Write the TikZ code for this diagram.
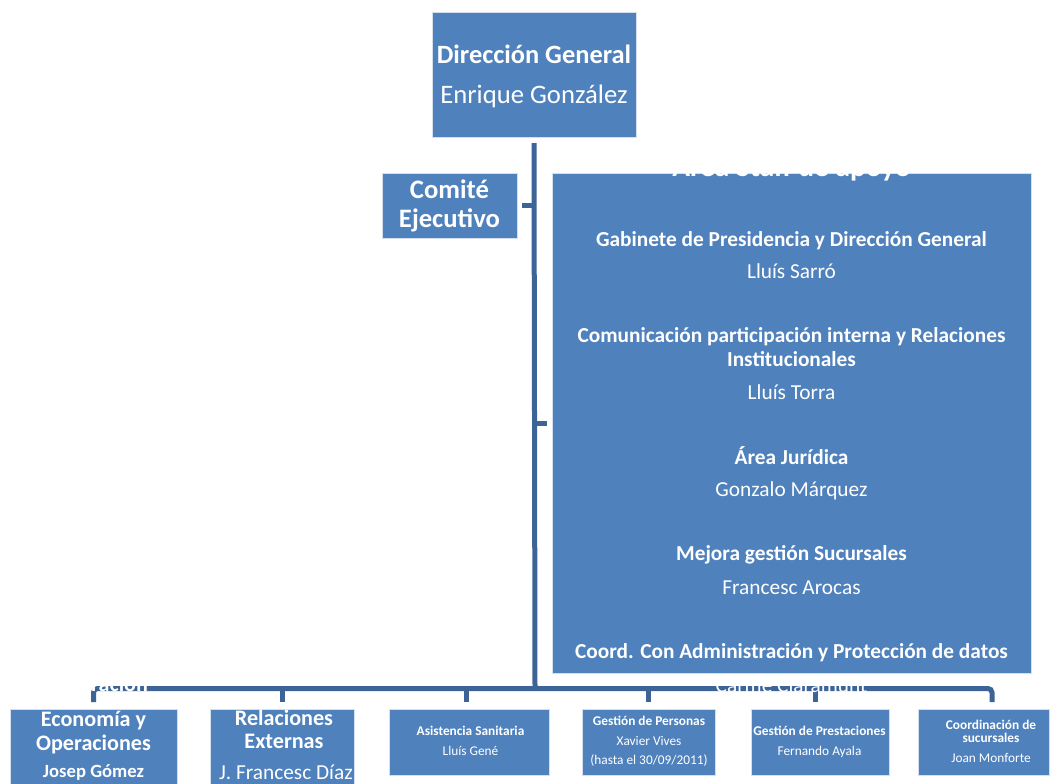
\documentclass[tikz,border=0pt]{standalone}
\usepackage{fontspec}
\setmainfont{Carlito}
\definecolor{boxblue}{RGB}{79,129,189}
\definecolor{connblue}{RGB}{60,100,150}
\begin{document}
\begin{tikzpicture}[x=0.75pt,y=-0.75pt,
  orgbox/.style 2 args={rectangle, fill=boxblue, draw=white!75!boxblue, line width=0.75pt,
    minimum width=#1*0.75pt, minimum height=#2*0.75pt, inner sep=0pt, outer sep=0pt},
  conn/.style={draw=connblue, line width=3.75pt},
  lbl/.style={text=white, inner sep=0pt, outer sep=0pt, anchor=base},
  fTop/.style={font=\bfseries\fontsize{19.8pt}{23pt}\selectfont},
  fTopR/.style={font=\fontsize{20pt}{23pt}\selectfont},
  fCE/.style={font=\bfseries\fontsize{20pt}{23pt}\selectfont},
  fStT/.style={font=\bfseries\fontsize{22pt}{26pt}\selectfont},
  fSt/.style={font=\bfseries\fontsize{16pt}{19pt}\selectfont},
  fStR/.style={font=\fontsize{16pt}{19pt}\selectfont},
  fB/.style={font=\bfseries\fontsize{16.6pt}{19pt}\selectfont},
  fBn/.style={font=\bfseries\fontsize{14pt}{17pt}\selectfont},
  fBR/.style={font=\fontsize{16pt}{19pt}\selectfont},
  fS/.style={font=\bfseries\fontsize{10pt}{12pt}\selectfont},
  fSR/.style={font=\fontsize{10pt}{12pt}\selectfont}]
\useasboundingbox (0,0) rectangle (1052,783);
\clip (0,0) rectangle (1052,783);
\fill[white] (0,0) rectangle (1052,783);

% boxes
\node[orgbox={204}{125}] (dg) at (534,74.5) {};
\node[orgbox={135}{65}] (ce) at (449.5,205.5) {};
\node[orgbox={479}{500}] (st) at (791.5,423) {};
\node[orgbox={167}{90}] (b1) at (93.5,754) {};
\node[orgbox={144}{90}] (b2) at (282,754) {};
\node[orgbox={160}{66}] (b3) at (469,742) {};
\node[orgbox={133}{66}] (b4) at (648.5,742) {};
\node[orgbox={138}{66}] (b5) at (820,742) {};
\node[orgbox={131}{66}] (b6) at (984,742) {};

% connectors
\coordinate (bar) at (535,688.5);
\coordinate (t1) at (535,205.5);
\coordinate (t2) at (535,423.5);
\draw[conn] ([yshift=-4.5pt]dg.south) -- (bar);
\draw[conn] (t1) -- ([xshift=3.75pt]ce.east |- t1);
\draw[conn] (t2) -- ([xshift=-3.75pt]st.west |- t2);
\draw[conn, rounded corners=3pt] ([yshift=5.25pt]b1.north) -- (b1.north |- bar)
  -- ([xshift=6pt]b6.north |- bar) -- ([xshift=6pt,yshift=5.25pt]b6.north);
\draw[conn] (b2.north |- bar) -- ([yshift=5.25pt]b2.north);
\draw[conn] ([xshift=-2.25pt]b3.north |- bar) -- ([xshift=-2.25pt,yshift=5.25pt]b3.north);
\draw[conn] (b4.north |- bar) -- ([yshift=5.25pt]b4.north);
\draw[conn] ([xshift=-3.75pt]b5.north |- bar) -- ([xshift=-3.75pt,yshift=5.25pt]b5.north);

% top box text
\node[lbl,fTop] (dgt) at (534,63) {Dirección General};
\node[lbl,fTopR] (dgn) at (534,103) {Enrique González};
% comite
\node[lbl,fCE] (cet1) at (449.5,198) {Comité};
\node[lbl,fCE] (cet2) at (449.5,227) {Ejecutivo};
% staff
\node[lbl,fStT] (stt) at (791.5,176) {Área Staff de apoyo};
\node[lbl,fSt] (s1) at (791.5,246.5) {Gabinete de Presidencia y Dirección General};
\node[lbl,fStR] (s1n) at (791.5,278.5) {Lluís Sarró};
\node[lbl,fSt] (s2) at (791.5,342.5) {Comunicación participación interna y Relaciones};
\node[lbl,fSt] (s2b) at (791.5,366) {Institucionales};
\node[lbl,fStR] (s2n) at (791.5,399) {Lluís Torra};
\node[lbl,fSt] (s3) at (791.5,464) {Área Jurídica};
\node[lbl,fStR] (s3n) at (791.5,496.5) {Gonzalo Márquez};
\node[lbl,fSt] (s4) at (791.5,560.5) {Mejora gestión Sucursales};
\node[lbl,fStR] (s4n) at (791.5,594) {Francesc Arocas};
\node[lbl,fSt] (s5) at (791.5,658.5) {Coord. Con Administración y Protección de datos};
\node[lbl,fStR] (s5n) at (791.5,692) {Carme Claramunt};
\node[lbl,fB,anchor=base east] (gx) at (148,691) {ración};
% bottom
\node[lbl,fB] (b1a) at (93.5,726.5) {Economía y};
\node[lbl,fB] (b1b) at (93.5,750) {Operaciones};
\node[lbl,fBn] (b1c) at (93.5,777) {Josep Gómez};
\node[lbl,fB] (b2a) at (284,725) {Relaciones};
\node[lbl,fB] (b2b) at (284,748.5) {Externas};
\node[lbl,fBR] (b2c) at (286,779) {J. Francesc Díaz};
\node[lbl,fS] (b3a) at (470.5,735) {Asistencia Sanitaria};
\node[lbl,fSR] (b3b) at (470.5,755) {Lluís Gené};
\node[lbl,fS] (b4a) at (649,725) {Gestión de Personas};
\node[lbl,fSR] (b4b) at (649,745) {Xavier Vives};
\node[lbl,fSR] (b4c) at (649,764.5) {(hasta el 30/09/2011)};
\node[lbl,fS] (b5a) at (819.5,735) {Gestión de Prestaciones};
\node[lbl,fSR] (b5b) at (819.5,755) {Fernando Ayala};
\node[lbl,fS] (b6a) at (991,729) {Coordinación de};
\node[lbl,fS] (b6b) at (991,742) {sucursales};
\node[lbl,fSR] (b6c) at (991,762.5) {Joan Monforte};
\end{tikzpicture}
\end{document}
